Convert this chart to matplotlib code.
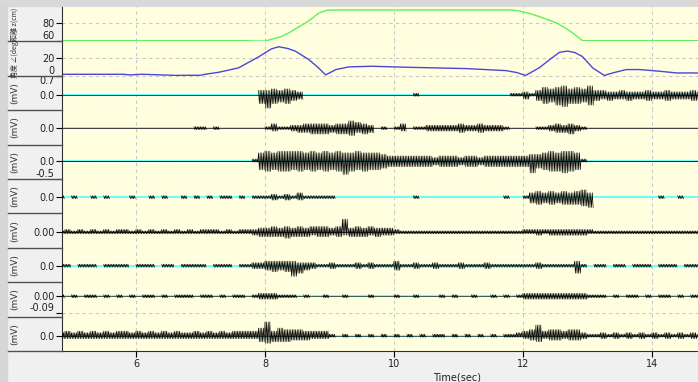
import numpy as np
import matplotlib
matplotlib.use('Agg')
import matplotlib.pyplot as plt
from matplotlib.lines import Line2D
from matplotlib.patches import Rectangle

plt.rcParams['font.family'] = ['DejaVu Sans']
jp_font = ['Noto Sans CJK JP', 'DejaVu Sans']

# time axis
x_ticks = [6, 8, 10, 12, 14]
t_min, t_max = 4.853, 14.713

# hand height z (cm)
z_t = [4.85, 7.7, 7.85, 8.0, 8.24, 8.37, 8.5, 8.63, 8.75, 8.83, 8.96, 9.1,
       11.83, 11.94, 12.1, 12.25, 12.4, 12.52, 12.65, 12.77, 12.92, 13.1, 14.72]
z_v = [60, 60, 59.6, 59.6, 64.5, 69, 75, 80.5, 87, 91.8, 95.3, 95.5,
       95.5, 94.4, 91.5, 88, 84, 80.5, 75, 69, 60.2, 60, 60]

# joint angle (deg)
a_t = [4.85, 5.8, 5.9, 6.1, 6.6, 7.0, 7.07, 7.28, 7.59, 7.9, 8.0, 8.1, 8.21, 8.35, 8.47,
       8.68, 8.83, 8.94, 9.1, 9.3, 9.66, 10.19, 11.12, 11.74, 11.9, 12.04, 12.25, 12.45,
       12.57, 12.69, 12.8, 12.92, 13.08, 13.26, 13.39, 13.6, 13.81, 14.12, 14.38, 14.72]
a_v = [1.5, 1.5, 0.8, 1.5, 0.3, 0.4, 1.5, 3.7, 8.7, 21.0, 25.6, 30.0, 32.4, 30.5, 27.5,
       18.0, 8.7, 0.8, 6.8, 9.8, 10.5, 9.4, 7.9, 5.6, 3.5, 0.2, 8.7, 20.0,
       26.3, 27.5, 26.0, 21.5, 8.7, 0.2, 3.0, 6.8, 6.8, 4.9, 3.0, 3.0]

# EMG peak levels, one digit per 0.1 s from 4.8 s (up = positive peaks, dn = negative peaks)
emg_t0 = 4.8
emg_step = 0.1
ch1_up = "0000000000 0000000000 0000000000 0334343200 0000000000 0000010000 0000000000 1121354564 5463322322 2322322232"
ch1_dn = "0000000000 0000000000 0000000000 0696564300 0000000000 0000010000 0000000000 1131465786 6574343343 3433433343"
ch2_up = "0000000000 0000000000 0110100000 0013112233 3323354320 1013011222 2232232221 0000112323 2100000000 0000000000"
ch2_dn = "0000000000 0000000000 0110100000 0012112334 4434453430 1012011222 2232232221 0000112334 2100000000 0000000000"
ch3_up = "0000000000 0000000000 0000000000 1565666656 5656556555 4333333323 3323323333 3334456566 5100000000 0000000000"
ch3_dn = "0000000000 0000000000 0000000000 1676776767 6767976766 5444444434 4434434444 4448567787 6100000000 0000000000"
ch4_up = "1010010100 0100101001 0101011010 1112121311 1110000000 0000010000 0000000001 0013434343 4530000000 0001001000"
ch4_dn = "1010010100 0100101001 0101011010 1112121211 1110000000 0000010000 0000000001 0014545455 5670000000 0001001000"
ch5_up = "1212121212 2121212121 2122212122 2334343434 4434934343 3321111111 1111111111 1122222222 2221111111 1111111111"
ch5_dn = "1111111111 1111111111 1111111111 2333343332 3323233323 2211111111 1111111111 1111212222 2211111111 1111111111"
ch6_up = "1101110111 1011101101 1110111011 2233333222 1121112121 1131121121 1121112111 1111211111 3101101101 1101110111"
ch6_dn = "1101110111 1011101101 1110111011 2234347532 1121112121 1131121121 1121112111 1111211111 5101101101 1101110111"
ch7_up = "1010110101 0101101011 1011010110 1222111010 0100100010 0010010001 0100100101 0122222222 2211101011 0101101011"
ch7_dn = "1010110101 0101101011 1011010110 1222111010 0100100010 0010010001 0100100101 0122222222 2211101011 0101101011"
ch8_up = "2323232323 3232323232 2323232333 3593544433 3310101010 1010101011 0101010101 1234734434 4211212121 2121212121"
ch8_dn = "2222222222 2222222222 2222222222 2454443332 2210101010 1010101011 0101010101 1123423323 3211212121 2121212121"

emg_up = [ch1_up, ch2_up, ch3_up, ch4_up, ch5_up, ch6_up, ch7_up, ch8_up]
emg_dn = [ch1_dn, ch2_dn, ch3_dn, ch4_dn, ch5_dn, ch6_dn, ch7_dn, ch8_dn]
emg_unit = [0.055, 0.043, 0.042, 0.043, 0.043, 0.043, 0.0078, 0.043]  # mV per level

# y axes
ylims = [(59.2, 99), (-0.2, 38.4), (-0.57, 0.7), (-0.478, 0.523), (-0.5, 0.432),
         (-0.472, 0.529), (-0.449, 0.552), (-0.466, 0.506), (-0.107, 0.074), (-0.43, 0.535)]
yticks = [[60, 80], [0, 20], [0.0, 0.7], [0.0], [-0.5, 0.0],
          [0.0], [0.0], [0.0], [-0.09, 0.0], [0.0]]
yticklabels = [['60', '80'], ['0', '20'], ['0.0', '0.7'], ['0.0'], ['-0.5', '0.0'],
               ['0.0'], ['0.00'], ['0.0'], ['-0.09', '0.00'], ['0.0']]
ylabels = ['距離 z(cm)', '角度 ∠(deg)'] + ['(mV)'] * 8
base_colors = ['#2a5050', '#404040', '#202020', None, '#303030', None, '#306060', '#306060']

W, H = 698, 382
fig = plt.figure(figsize=(W / 100, H / 100), dpi=100, facecolor='#f0f0f0')
axes = fig.subplots(10, 1, sharex=True,
                    gridspec_kw=dict(hspace=0, left=62 / W, right=1.0,
                                     top=1 - 7 / H, bottom=1 - 351 / H))

fig.add_artist(Rectangle((0, 1 - 6 / H), 1, 6 / H, transform=fig.transFigure,
                         color='#d9d9d9', zorder=-5))
fig.add_artist(Rectangle((0, 0), 7 / W, 1 - 6 / H, transform=fig.transFigure,
                         color='#d6d6d6', zorder=-5))

grid_kw = dict(color='#c8c8c8', lw=0.8, ls=(0, (3, 3)))

for i, ax in enumerate(axes):
    ax.set_facecolor('#ffffe0')
    for s in ['top', 'right', 'bottom']:
        ax.spines[s].set_visible(False)
    ax.spines['left'].set_color('#303030')
    ax.set_xlim(t_min, t_max)
    ax.set_ylim(*ylims[i])
    ax.set_xticks(x_ticks)
    ax.set_yticks(yticks[i])
    ax.set_yticklabels(yticklabels[i])
    ax.tick_params(axis='y', length=4, width=0.8, labelsize=7, labelcolor='#202020', pad=1.5)
    ax.tick_params(axis='x', length=0, labelbottom=False)
    ax.grid(True, **grid_kw)
    ax.set_axisbelow(True)
    # edge labels are shifted inside the panel
    lo, hi = ylims[i]
    for tk, v in zip(ax.yaxis.get_major_ticks(), yticks[i]):
        if v - lo < 0.12 * (hi - lo):
            tk.label1.set_va('bottom')
        elif hi - v < 0.12 * (hi - lo):
            tk.label1.set_va('top')
    bb = ax.get_position()
    if i < 2:
        fig.text(15 / W, (bb.y0 + bb.y1) / 2, ylabels[i], rotation=90, ha='center',
                 va='center', fontsize=5, color='#303030', family=jp_font)
    else:
        fig.text(15 / W, (bb.y0 + bb.y1) / 2, ylabels[i], rotation=90, ha='center',
                 va='center', fontsize=6.5, color='#303030')
    fig.add_artist(Line2D([8 / W, 62 / W], [bb.y0, bb.y0], transform=fig.transFigure,
                          color='#505050', lw=1))

axes[0].plot(z_t, z_v, color='#5ef05e', lw=1)
axes[1].plot(a_t, a_v, color='#4848d8', lw=1)

n_sub = 8  # strokes drawn per 0.1 s reading
for k in range(8):
    ax = axes[k + 2]
    up = np.array([int(c) for c in emg_up[k].replace(' ', '')], dtype=float)
    dn = np.array([int(c) for c in emg_dn[k].replace(' ', '')], dtype=float)
    t = emg_t0 + emg_step * np.arange(len(up))
    xs = (t[:, None] + emg_step * np.arange(n_sub)[None, :] / n_sub).ravel()
    ys = np.where(np.arange(n_sub)[None, :] % 2 == 0, up[:, None], -dn[:, None]) * emg_unit[k]
    ys[(up == 0) & (dn == 0)] = np.nan
    ax.axhline(0, color='#66ffff', lw=1.4, zorder=2)
    if base_colors[k]:
        ax.axhline(0, color=base_colors[k], lw=0.7, zorder=2)
    ax.plot(xs, ys.ravel(), color='black', lw=0.45, zorder=3)

last = axes[-1]
last.spines['bottom'].set_visible(True)
last.spines['bottom'].set_color('#303030')
last.tick_params(axis='x', length=4, width=0.8, labelbottom=True, labelsize=7,
                 labelcolor='#202020', pad=2)
last.set_xlabel('Time(sec)', fontsize=7, color='#202020')
last.xaxis.set_label_coords((457 - 62) / 636, -(372 - 351) / 34.4)

fig.savefig('out.png', dpi=100, facecolor=fig.get_facecolor())
